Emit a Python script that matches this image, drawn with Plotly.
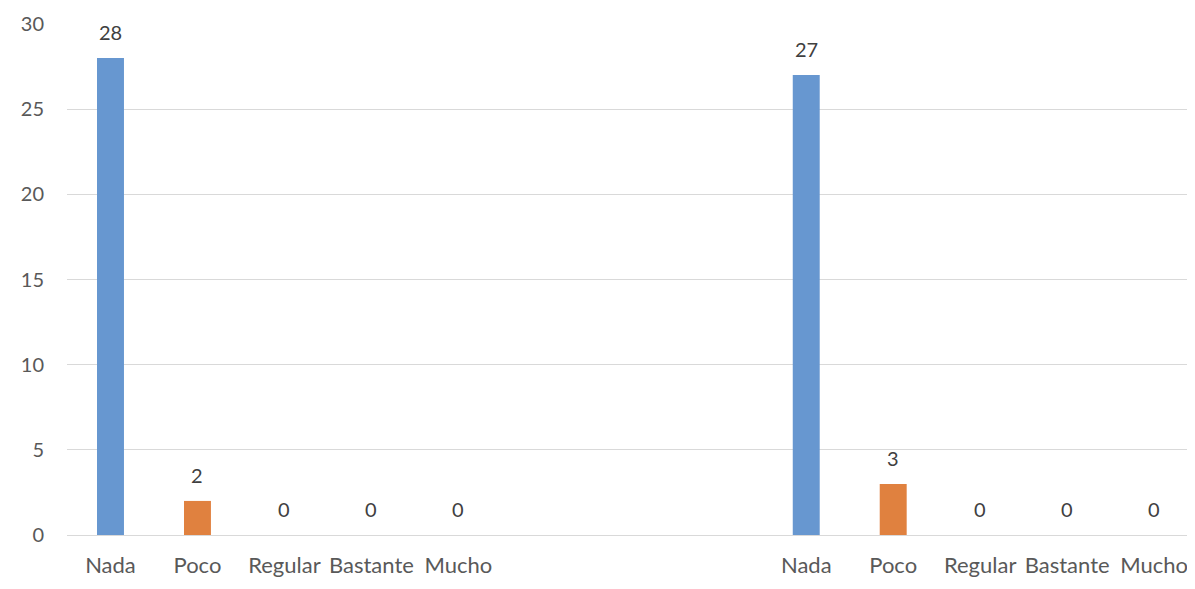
import plotly.graph_objects as go

categories = ["Nada", "Poco", "Regular", "Bastante", "Mucho"]
group1_values = [28, 2, 0, 0, 0]
group2_values = [27, 3, 0, 0, 0]
bar_colors = ["#6797D0", "#E0813F", "#6797D0", "#6797D0", "#6797D0"]
y_ticks = [0, 5, 10, 15, 20, 25, 30]

gap = 3
x1 = list(range(len(categories)))
x2 = [len(categories) + gap + i for i in range(len(categories))]

xs = x1 + x2
ys = group1_values + group2_values
cols = bar_colors + bar_colors
labels = categories + categories

fig = go.Figure()
fig.add_trace(go.Bar(
    x=xs, y=ys, width=0.31,
    marker=dict(color=cols, line=dict(width=0)),
    cliponaxis=False,
))

for x, y in zip(xs, ys):
    fig.add_annotation(
        x=x, y=y, text=str(y), showarrow=False,
        xanchor="center", yanchor="bottom", yshift=12,
        font=dict(family="Lato", size=20, color="#404040"),
    )

fig.update_layout(
    width=1187, height=581,
    margin=dict(l=59, r=0, t=16, b=54, autoexpand=False),
    paper_bgcolor="white", plot_bgcolor="white",
    showlegend=False,
    font=dict(family="Lato", size=20, color="#595959"),
    xaxis=dict(
        tickmode="array", tickvals=xs, ticktext=labels,
        range=[-0.5, 12.47], showgrid=False, zeroline=False,
        showline=False, ticks="", ticklabelstandoff=15, automargin=False,
        tickfont=dict(family="Lato", size=22, color="#595959"),
    ),
    yaxis=dict(
        range=[0, 30], tickvals=y_ticks, showgrid=True,
        gridcolor="#D9D9D9", gridwidth=1, zeroline=True,
        zerolinecolor="#D9D9D9", zerolinewidth=1, showline=False,
        ticks="", ticklabelstandoff=22, automargin=False,
        tickfont=dict(family="Lato", size=20, color="#595959"),
    ),
)

fig.write_html("out.html")
